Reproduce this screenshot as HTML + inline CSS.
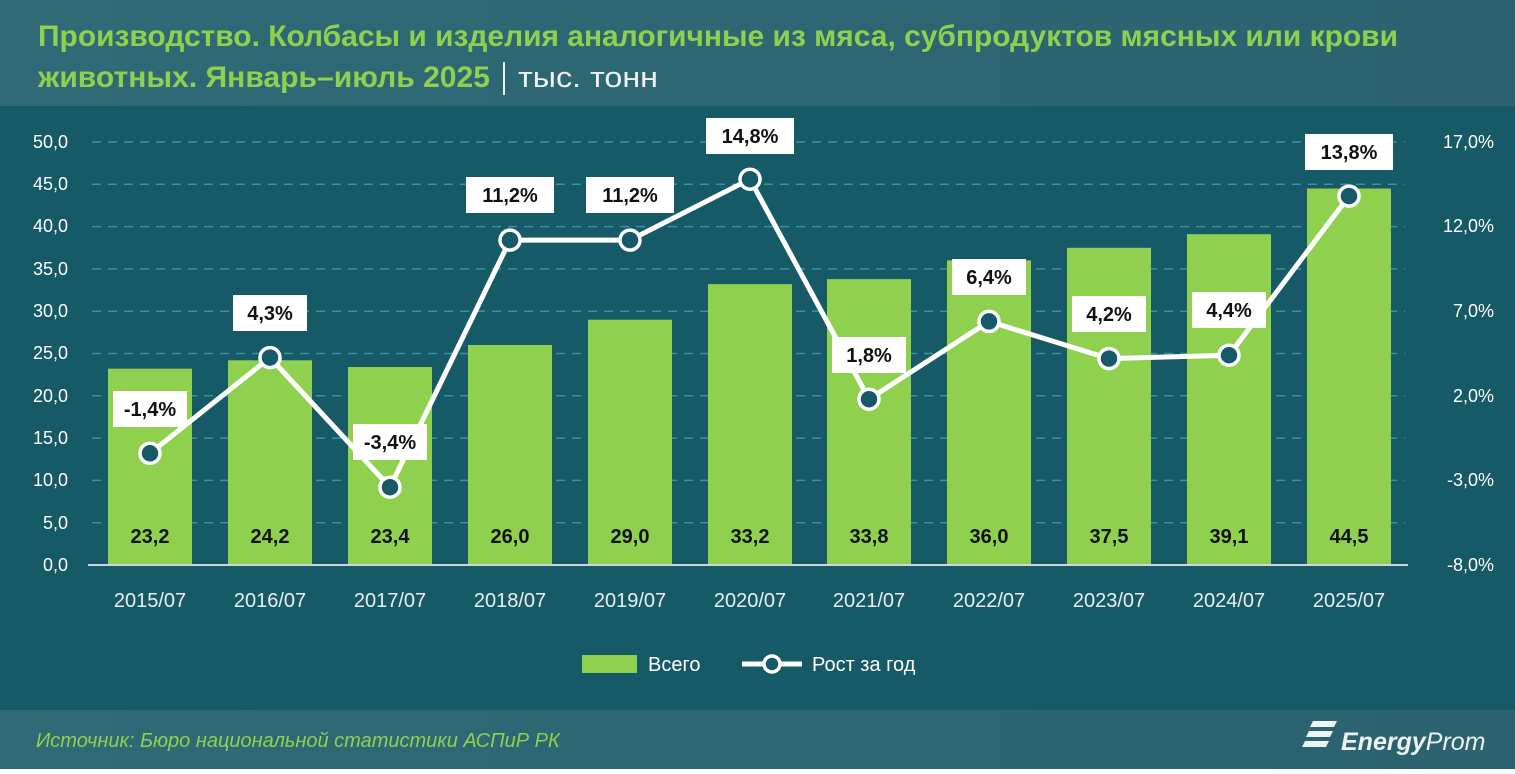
<!DOCTYPE html><html><head><meta charset="utf-8"><style>
body{margin:0;width:1515px;height:769px;overflow:hidden;font-family:"Liberation Sans",sans-serif}
</style></head><body>
<svg width="1515" height="769" xmlns="http://www.w3.org/2000/svg" font-family="Liberation Sans, sans-serif">
<defs><linearGradient id="hd" x1="0" x2="1"><stop offset="0" stop-color="#2f6a76"/><stop offset="1" stop-color="#2c6270"/></linearGradient></defs>
<rect width="1515" height="769" fill="#175a67"/>
<rect width="1515" height="106" fill="url(#hd)"/>
<rect y="710" width="1515" height="59" fill="url(#hd)"/>
<text x="38" y="46" font-size="30" font-weight="bold" fill="#8fd14f" textLength="1360" lengthAdjust="spacingAndGlyphs">Производство. Колбасы и изделия аналогичные из мяса, субпродуктов мясных или крови</text>
<text x="38" y="87" font-size="30" font-weight="bold" fill="#8fd14f" textLength="452" lengthAdjust="spacingAndGlyphs">животных. Январь–июль 2025</text>
<rect x="503" y="62" width="2" height="33" fill="#e8eef0"/>
<text x="518" y="87" font-size="29" fill="#f0f4f5" textLength="140" lengthAdjust="spacingAndGlyphs">тыс. тонн</text>
<g stroke="#3a93a3" stroke-width="1.5" stroke-dasharray="9,7">
<line x1="92" x2="1405" y1="142" y2="142"/><line x1="92" x2="1405" y1="184.3" y2="184.3"/><line x1="92" x2="1405" y1="226.6" y2="226.6"/><line x1="92" x2="1405" y1="268.9" y2="268.9"/><line x1="92" x2="1405" y1="311.2" y2="311.2"/><line x1="92" x2="1405" y1="353.5" y2="353.5"/><line x1="92" x2="1405" y1="395.8" y2="395.8"/><line x1="92" x2="1405" y1="438.1" y2="438.1"/><line x1="92" x2="1405" y1="480.4" y2="480.4"/><line x1="92" x2="1405" y1="522.7" y2="522.7"/>
</g>
<g fill="#8fd14f">
<rect x="108" y="368.7" width="84" height="196.3"/><rect x="228" y="360.3" width="84" height="204.7"/><rect x="348" y="367" width="84" height="198"/><rect x="468" y="345" width="84" height="220"/><rect x="588" y="319.7" width="84" height="245.3"/><rect x="708" y="284.1" width="84" height="280.9"/><rect x="827" y="279.1" width="84" height="285.9"/><rect x="947" y="260.4" width="84" height="304.6"/><rect x="1067" y="247.8" width="84" height="317.2"/><rect x="1187" y="234.2" width="84" height="330.8"/><rect x="1307" y="188.5" width="84" height="376.5"/>
</g>
<line x1="88" x2="1408" y1="565" y2="565" stroke="#c8d8dc" stroke-width="2"/>
<g font-size="18" fill="#ffffff" text-anchor="end">
<text x="68" y="148">50,0</text><text x="68" y="190">45,0</text><text x="68" y="232">40,0</text><text x="68" y="275">35,0</text><text x="68" y="317">30,0</text><text x="68" y="359">25,0</text><text x="68" y="402">20,0</text><text x="68" y="444">15,0</text><text x="68" y="486">10,0</text><text x="68" y="529">5,0</text><text x="68" y="571">0,0</text>
</g>
<g font-size="18" fill="#ffffff" text-anchor="end">
<text x="1494" y="148">17,0%</text><text x="1494" y="232">12,0%</text><text x="1494" y="317">7,0%</text><text x="1494" y="402">2,0%</text><text x="1494" y="486">-3,0%</text><text x="1494" y="571">-8,0%</text>
</g>
<g font-size="20" font-weight="bold" fill="#111" text-anchor="middle">
<text x="150" y="543">23,2</text><text x="270" y="543">24,2</text><text x="390" y="543">23,4</text><text x="510" y="543">26,0</text><text x="630" y="543">29,0</text><text x="750" y="543">33,2</text><text x="869" y="543">33,8</text><text x="989" y="543">36,0</text><text x="1109" y="543">37,5</text><text x="1229" y="543">39,1</text><text x="1349" y="543">44,5</text>
</g>
<g font-size="20" fill="#e8f0f2" text-anchor="middle">
<text x="150" y="607">2015/07</text><text x="270" y="607">2016/07</text><text x="390" y="607">2017/07</text><text x="510" y="607">2018/07</text><text x="630" y="607">2019/07</text><text x="750" y="607">2020/07</text><text x="869" y="607">2021/07</text><text x="989" y="607">2022/07</text><text x="1109" y="607">2023/07</text><text x="1229" y="607">2024/07</text><text x="1349" y="607">2025/07</text>
</g>
<polyline fill="none" stroke="#ffffff" stroke-width="5" stroke-linejoin="round" points="150,453.3 270,357.6 390,487.2 510,240.1 630,240.1 750,179.2 869,399.2 989,321.4 1109,358.6 1229,355.2 1349,196.1"/>
<g fill="#175a67" stroke="#ffffff" stroke-width="3.5">
<circle cx="150" cy="453.3" r="10"/><circle cx="270" cy="357.6" r="10"/><circle cx="390" cy="487.2" r="10"/><circle cx="510" cy="240.1" r="10"/><circle cx="630" cy="240.1" r="10"/><circle cx="750" cy="179.2" r="10"/><circle cx="869" cy="399.2" r="10"/><circle cx="989" cy="321.4" r="10"/><circle cx="1109" cy="358.6" r="10"/><circle cx="1229" cy="355.2" r="10"/><circle cx="1349" cy="196.1" r="10"/>
</g>
<g fill="#ffffff">
<rect x="113" y="391" width="74" height="36"/><rect x="233" y="295" width="74" height="36"/><rect x="353" y="424" width="74" height="36"/><rect x="466" y="177" width="88" height="36"/><rect x="586" y="177" width="88" height="36"/><rect x="706" y="118" width="88" height="36"/><rect x="832" y="337" width="74" height="36"/><rect x="952" y="259" width="74" height="36"/><rect x="1072" y="296" width="74" height="36"/><rect x="1192" y="292" width="74" height="36"/><rect x="1305" y="134" width="88" height="36"/>
</g>
<g font-size="20" font-weight="bold" fill="#111" text-anchor="middle">
<text x="150" y="416">-1,4%</text><text x="270" y="320">4,3%</text><text x="390" y="449">-3,4%</text><text x="510" y="202">11,2%</text><text x="630" y="202">11,2%</text><text x="750" y="143">14,8%</text><text x="869" y="362">1,8%</text><text x="989" y="284">6,4%</text><text x="1109" y="321">4,2%</text><text x="1229" y="317">4,4%</text><text x="1349" y="159">13,8%</text>
</g>
<rect x="582" y="655" width="55" height="18" fill="#8fd14f"/>
<text x="648" y="671" font-size="20" fill="#ffffff">Всего</text>
<line x1="742" x2="802" y1="664" y2="664" stroke="#fff" stroke-width="5"/>
<circle cx="772" cy="664" r="8" fill="#175a67" stroke="#fff" stroke-width="3.5"/>
<text x="812" y="671" font-size="20" fill="#ffffff">Рост за год</text>
<text x="36" y="747" font-size="20" font-style="italic" fill="#8fd14f">Источник: Бюро национальной статистики АСПиР РК</text>
<g fill="#eef3f4"><path d="M1313 721 h24 l-3 6 h-24z"/><path d="M1309 731 h24 l-3 6 h-24z"/><path d="M1305 741 h24 l-3 6 h-24z"/></g>
<text x="1341" y="750" font-size="25" font-style="italic" font-weight="bold" fill="#eef3f4">Energy<tspan font-weight="normal">Prom</tspan></text>
</svg>
</body></html>
